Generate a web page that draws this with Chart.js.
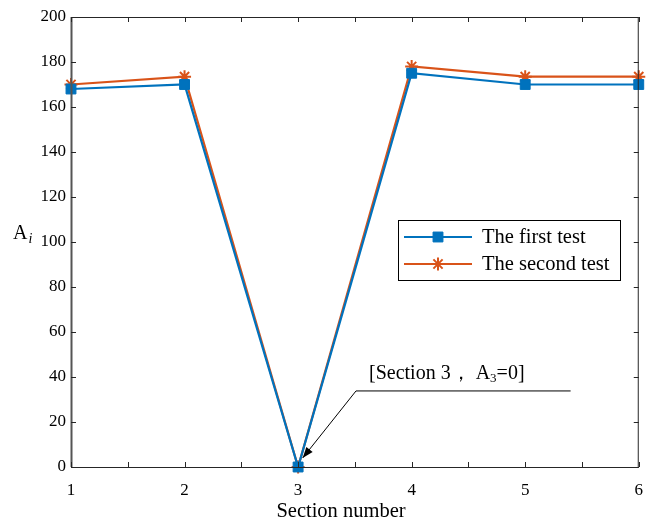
<!DOCTYPE html>
<html>
<head>
<meta charset="utf-8">
<script src="https://cdn.jsdelivr.net/npm/chart.js@4"></script>
<style>
  body { margin: 0; background: #fff; }
  canvas { display: block; }
</style>
</head>
<body>
<canvas id="chart" width="656" height="520"></canvas>
<script>
// data
const sections = [1, 2, 3, 4, 5, 6];
const firstTest = [168, 170, 0, 175, 170, 170];
const secondTest = [170, 173.5, 0, 178, 173.5, 173.5];
const seriesNames = ['The first test', 'The second test'];
const yTicks = [0, 20, 40, 60, 80, 100, 120, 140, 160, 180, 200];

const BLUE = '#0072BD';
const ORANGE = '#D95319';
const AXIS = '#262626';
const SERIF = '"Liberation Serif", "Times New Roman", serif';

function toPoints(vals) {
  return sections.map((s, i) => ({ x: s, y: vals[i] }));
}

// box, inward ticks, axis labels, annotation and legend
const extras = {
  id: 'extras',
  afterDraw(chart) {
    const ctx = chart.ctx;
    const a = chart.chartArea;
    const xs = chart.scales.x;
    const ys = chart.scales.y;
    const tl = 5;

    ctx.save();
    ctx.strokeStyle = AXIS;
    ctx.lineWidth = 1;
    ctx.strokeRect(a.left + 0.5, a.top + 0.5, a.right - a.left - 1, a.bottom - a.top);
    ctx.strokeStyle = '#555';
    ctx.lineWidth = 2;
    ctx.beginPath();
    ctx.moveTo(a.left + 0.5, a.top);
    ctx.lineTo(a.left + 0.5, a.bottom);
    ctx.stroke();
    ctx.strokeStyle = AXIS;
    ctx.lineWidth = 1;
    ctx.beginPath();
    xs.ticks.forEach(t => {
      const px = Math.round(xs.getPixelForValue(t.value)) + 0.5;
      ctx.moveTo(px, a.bottom); ctx.lineTo(px, a.bottom - tl);
      ctx.moveTo(px, a.top); ctx.lineTo(px, a.top + tl);
    });
    ys.ticks.forEach(t => {
      const py = Math.round(ys.getPixelForValue(t.value)) + 0.5;
      ctx.moveTo(a.left, py); ctx.lineTo(a.left + tl, py);
      ctx.moveTo(a.right, py); ctx.lineTo(a.right - tl, py);
    });
    ctx.stroke();

    // y axis label A_i
    ctx.fillStyle = '#000';
    ctx.textBaseline = 'alphabetic';
    ctx.textAlign = 'left';
    ctx.font = '20px ' + SERIF;
    ctx.fillText('A', 13, 239);
    const aw = ctx.measureText('A').width;
    ctx.font = 'italic 14px ' + SERIF;
    ctx.fillText('i', 13 + aw + 1, 243);

    // x axis title
    ctx.font = '20.5px ' + SERIF;
    ctx.textAlign = 'center';
    ctx.fillText('Section number', 341, 517);
    ctx.textAlign = 'left';

    // annotation arrow
    const tip = { x: xs.getPixelForValue(3.04), y: ys.getPixelForValue(4) };
    const elbow = { x: xs.getPixelForValue(3.51), y: ys.getPixelForValue(33.8) };
    const end = { x: xs.getPixelForValue(5.4), y: elbow.y };
    ctx.strokeStyle = '#000';
    ctx.lineWidth = 1;
    ctx.beginPath();
    ctx.moveTo(end.x, end.y);
    ctx.lineTo(elbow.x, elbow.y);
    ctx.lineTo(tip.x, tip.y);
    ctx.stroke();
    const ang = Math.atan2(tip.y - elbow.y, tip.x - elbow.x);
    const hl = 11, hw = 4;
    ctx.fillStyle = '#000';
    ctx.beginPath();
    ctx.moveTo(tip.x, tip.y);
    ctx.lineTo(tip.x - hl * Math.cos(ang) + hw * Math.sin(ang), tip.y - hl * Math.sin(ang) - hw * Math.cos(ang));
    ctx.lineTo(tip.x - hl * Math.cos(ang) - hw * Math.sin(ang), tip.y - hl * Math.sin(ang) + hw * Math.cos(ang));
    ctx.closePath();
    ctx.fill();

    // annotation text
    let tx = elbow.x + 13;
    const ty = elbow.y - 12;
    ctx.font = '20px ' + SERIF;
    ctx.fillText('[Section 3\uFF0C A', tx, ty);
    tx += ctx.measureText('[Section 3\uFF0C A').width;
    ctx.font = '13px ' + SERIF;
    ctx.fillText('3', tx, ty + 3);
    tx += ctx.measureText('3').width;
    ctx.font = '20px ' + SERIF;
    ctx.fillText('=0]', tx, ty);

    // legend
    const lx = 398, ly = 220, lw = 222, lh = 60;
    ctx.fillStyle = '#fff';
    ctx.fillRect(lx, ly, lw, lh);
    ctx.strokeStyle = '#000';
    ctx.lineWidth = 1;
    ctx.strokeRect(lx + 0.5, ly + 0.5, lw, lh);
    chart.data.datasets.forEach((ds, i) => {
      const rowY = ly + 17 + i * 27;
      ctx.strokeStyle = ds.borderColor;
      ctx.lineWidth = 2;
      ctx.beginPath();
      ctx.moveTo(lx + 6, rowY);
      ctx.lineTo(lx + 74, rowY);
      ctx.stroke();
      ctx.fillStyle = ds.borderColor;
      ctx.lineWidth = ds.pointBorderWidth;
      Chart.helpers.drawPoint(ctx, {
        pointStyle: ds.pointStyle,
        radius: ds.pointRadius,
        borderWidth: ds.pointBorderWidth
      }, lx + 40, rowY);
      ctx.fillStyle = '#000';
      ctx.font = '20.5px ' + SERIF;
      ctx.textBaseline = 'middle';
      ctx.fillText(ds.label, lx + 84, rowY + 1);
    });
    ctx.restore();
  }
};

const config = {
  type: 'line',
  data: {
    datasets: [
      {
        label: seriesNames[0],
        data: toPoints(firstTest),
        borderColor: BLUE,
        backgroundColor: BLUE,
        borderWidth: 2.2,
        pointStyle: 'rect',
        pointRadius: 7,
        pointBorderWidth: 1,
        tension: 0,
        clip: false
      },
      {
        label: seriesNames[1],
        data: toPoints(secondTest),
        borderColor: ORANGE,
        backgroundColor: ORANGE,
        borderWidth: 2.2,
        pointStyle: 'star',
        pointRadius: 6.5,
        pointBorderWidth: 2,
        tension: 0,
        clip: false
      }
    ]
  },
  options: {
    responsive: false,
    animation: false,
    layout: { padding: { top: 17, right: 15, left: 0, bottom: 0 } },
    plugins: {
      legend: { display: false },
      tooltip: { enabled: false }
    },
    scales: {
      x: {
        type: 'linear',
        min: 1,
        max: 6,
        grid: { display: false, drawTicks: false },
        border: { display: false },
        ticks: {
          stepSize: 0.5,
          padding: 13,
          color: '#000',
          font: { family: SERIF, size: 17 },
          maxRotation: 0,
          autoSkip: false,
          callback: v => (Number.isInteger(v) ? String(v) : '')
        },
        afterFit: s => { s.height = 53; }
      },
      y: {
        min: 0,
        max: 200,
        grid: { display: false, drawTicks: false },
        border: { display: false },
        afterBuildTicks: s => { s.ticks = yTicks.map(v => ({ value: v })); },
        ticks: {
          padding: 5,
          color: '#000',
          font: { family: SERIF, size: 17 }
        },
        afterFit: s => { s.width = 71; }
      }
    }
  },
  plugins: [extras]
};

var lineChart = new Chart(document.getElementById('chart'), config);
</script>
</body>
</html>
